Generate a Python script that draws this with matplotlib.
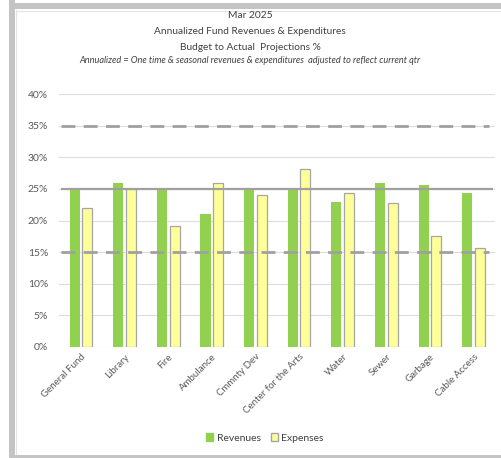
import matplotlib
matplotlib.use("Agg")
import matplotlib.pyplot as plt
from matplotlib.patches import Rectangle, Patch
import numpy as np

plt.rcParams['font.family'] = ['Lato', 'DejaVu Sans']

categories = ["General Fund", "Library", "Fire", "Ambulance", "Cmmnty Dev",
              "Center for the Arts", "Water", "Sewer", "Garbage", "Cable Access"]
revenues = [25.0, 26.0, 25.0, 21.0, 25.0, 25.0, 22.9, 25.9, 25.6, 24.3]
expenses = [22.0, 25.0, 19.2, 26.0, 24.0, 28.1, 24.3, 22.7, 17.6, 15.6]
target = 25
upper = 35
lower = 15

W, H = 502, 458
fig = plt.figure(figsize=(W / 100, H / 100), dpi=100)

def fx(px):
    return px / W

def fy(py):
    return 1 - py / H

# worksheet-like frame around the chart
gray = "#C4C4C4"
fig.add_artist(Rectangle((fx(9), fy(458)), fx(6), 1, transform=fig.transFigure,
                         color=gray, lw=0))
fig.add_artist(Rectangle((fx(9), fy(9)), 1, 6 / H, transform=fig.transFigure,
                         color=gray, lw=0))
fig.add_artist(Rectangle((fx(9), 0), 1, 3 / H, transform=fig.transFigure,
                         color=gray, lw=0))
fig.add_artist(plt.Line2D([fx(16.5), fx(16.5)], [fy(10), fy(454)],
                          transform=fig.transFigure, color="#E3E3E3", lw=0.8))
fig.add_artist(plt.Line2D([fx(16.5), 1], [fy(10.5), fy(10.5)],
                          transform=fig.transFigure, color="#E3E3E3", lw=0.8))

ax = fig.add_axes([fx(59.2), fy(346.7), fx(495.3) - fx(59.2), fy(94.3) - fy(346.7)])

x = np.arange(len(categories))
bw = 0.23
off = 0.145
ax.bar(x - off, revenues, bw, color="#92D050", zorder=2)
ax.bar(x + off, expenses, bw, color="#FFFF99", edgecolor="#A6A6A6", linewidth=0.9, zorder=2)

ax.hlines(target, -0.45, 9.45, color="#A0A0A0", lw=1.6, zorder=3)
ax.hlines([upper, lower], -0.45, 9.35, color="#A0A0A0", lw=2.0,
          linestyles=(0, (5, 3)), zorder=3)

ax.set_xlim(-0.5, len(categories) - 0.5)
ax.set_ylim(0, 40)
ax.set_yticks(np.arange(0, 41, 5))
ax.set_yticklabels([f"{v}%" for v in range(0, 41, 5)])
ax.yaxis.grid(True, color="#DDDDDD", lw=0.8, zorder=0)
ax.set_axisbelow(True)
for s in ax.spines.values():
    s.set_visible(False)
ax.tick_params(axis="both", length=0, colors="#595959", labelsize=7.5)
ax.tick_params(axis="y", pad=8)
ax.set_xticks(x)
ax.set_xticklabels(categories, rotation=45, ha="right", rotation_mode="anchor",
                   fontsize=7.0)
ax.tick_params(axis="x", pad=4)

cx = fx(250)
fig.text(cx, fy(16), "Mar 2025", ha="center", va="center", fontsize=7.4, color="#404040")
fig.text(cx, fy(32), "Annualized Fund Revenues & Expenditures", ha="center", va="center",
         fontsize=7.3, color="#404040")
fig.text(cx, fy(47), "Budget to Actual  Projections %", ha="center", va="center",
         fontsize=7.3, color="#404040")
fig.text(cx, fy(60.5), "Annualized = One time & seasonal revenues & expenditures  adjusted to reflect current qtr",
         ha="center", va="center", fontsize=6.6, style="italic", color="#404040")

handles = [Patch(facecolor="#92D050", edgecolor="#92D050", label="Revenues"),
           Patch(facecolor="#FFFF99", edgecolor="#A6A6A6", label="Expenses")]
leg = fig.legend(handles=handles, loc="center", bbox_to_anchor=(fx(265), fy(438)),
                 ncol=2, frameon=False, fontsize=7.5, handlelength=0.7,
                 handleheight=0.7, handletextpad=0.3, columnspacing=1.0)
for t in leg.get_texts():
    t.set_color("#404040")

fig.savefig("out.png", dpi=100)
